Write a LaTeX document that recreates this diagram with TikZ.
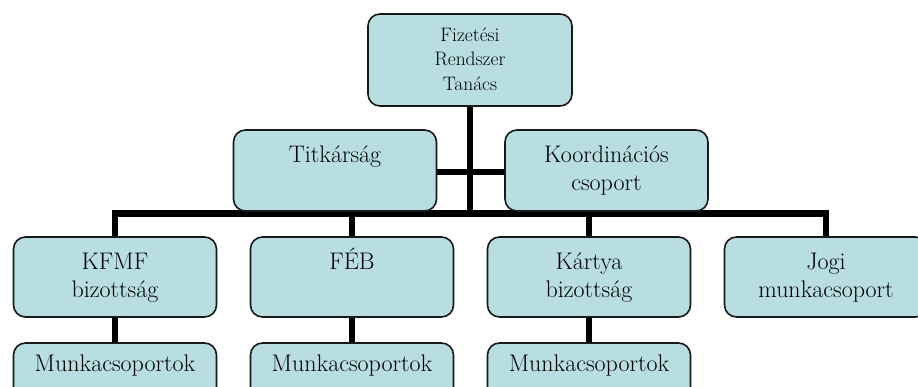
\documentclass[tikz,border=0pt]{standalone}
\usetikzlibrary{backgrounds}
\definecolor{boxfill}{RGB}{184,222,225}
\definecolor{boxline}{RGB}{25,25,25}
\tikzset{
  orgbox/.style={draw=boxline, line width=1.6pt, fill=boxfill, rounded corners=12pt,
    minimum width=203pt, minimum height=80pt, inner sep=0pt},
  txt/.style={anchor=base, align=center, inner sep=0pt, font=\fontsize{24}{28.5}\selectfont},
  smalltxt/.style={anchor=base, align=center, inner sep=0pt, font=\fontsize{19.5}{24.5}\selectfont},
  conn/.style={line width=6.5pt, black, line join=miter},
}
\begin{document}
\begin{tikzpicture}[x=1pt,y=-1pt]
\useasboundingbox (0,0) rectangle (918,387);
\clip (0,0) rectangle (918,387);
% boxes
\node[orgbox, minimum width=204pt, minimum height=92pt] (top) at (470,60) {};
\node[orgbox, minimum height=81pt] (tit) at (335,170.5) {};
\node[orgbox, minimum height=81pt] (koord) at (606.5,170.5) {};
\node[orgbox] (kfmf) at (115,277) {};
\node[orgbox] (feb) at (352,277) {};
\node[orgbox] (kartya) at (589,277) {};
\node[orgbox] (jogi) at (826,277) {};
\node[orgbox] (mk1) at (115,383) {};
\node[orgbox] (mk2) at (352,383) {};
\node[orgbox] (mk3) at (589,383) {};
% texts (anchor base = baseline of the last line)
\node[smalltxt] (ttop) at ([yshift=-77pt]top.north) {Fizetési\\Rendszer\\Tanács};
\node[txt] (ttit) at ([yshift=-33pt]tit.north) {Titkárság};
\node[txt] (tkoord) at ([yshift=-61.5pt]koord.north) {Koordinációs\\csoport};
\node[txt] (tkfmf) at ([yshift=-61.5pt]kfmf.north) {KFMF\\bizottság};
\node[txt] (tfeb) at ([yshift=-33pt]feb.north) {FÉB};
\node[txt] (tkartya) at ([yshift=-61.5pt]kartya.north) {Kártya\\bizottság};
\node[txt] (tjogi) at ([yshift=-61.5pt]jogi.north) {Jogi\\munkacsoport};
\node[txt] (tmk1) at ([yshift=-29pt]mk1.north) {Munkacsoportok};
\node[txt] (tmk2) at ([yshift=-29pt]mk2.north) {Munkacsoportok};
\node[txt] (tmk3) at ([yshift=-29pt]mk3.north) {Munkacsoportok};
\coordinate (bus) at (470,213.5);
% connectors
\begin{scope}[on background layer]
\draw[conn] (top.south) -- (top.south |- bus);
\draw[conn] ([yshift=-1.5pt]tit.east) -- ([yshift=-1.5pt]koord.west);
\draw[conn] (kfmf.north) -- (kfmf.north |- bus) -- (jogi.north |- bus) -- (jogi.north);
\draw[conn] (feb.north) -- (feb.north |- bus);
\draw[conn] (kartya.north) -- (kartya.north |- bus);
\draw[conn] (kfmf.south) -- (mk1.north);
\draw[conn] (feb.south) -- (mk2.north);
\draw[conn] (kartya.south) -- (mk3.north);
\end{scope}
\end{tikzpicture}
\end{document}
